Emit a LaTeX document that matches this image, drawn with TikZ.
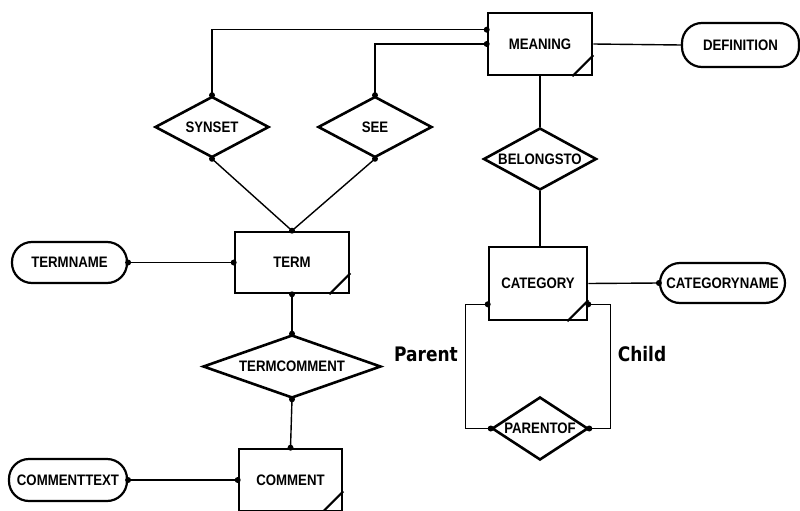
\documentclass[tikz,border=0pt]{standalone}
\usepackage{fontspec}
\setmainfont{Liberation Sans}
\newfontfamily\lblfont[FakeStretch=0.87]{Liberation Sans}
\newfontfamily\rolefont[FakeStretch=0.85]{DejaVu Sans}
\usetikzlibrary{shapes.geometric,calc}
\tikzset{
  lbl/.style={font=\lblfont\bfseries\fontsize{15.2}{17}\selectfont},
  ent/.style={lbl,draw,line width=2.6pt,rectangle,inner sep=0pt},
  rel/.style={draw,line width=2.6pt,diamond,inner sep=0pt},
  reltext/.style={lbl,inner sep=0pt},
  attr/.style={lbl,draw,line width=2.2pt,rectangle,rounded corners=20pt,inner sep=0pt},
  conn/.style={line width=1.4pt},
  rolelbl/.style={font=\rolefont\bfseries\fontsize{20}{22}\selectfont,inner sep=0pt},
}
\newcommand{\weakcorner}[1]{\draw[line width=2.2pt] ($(#1.south east)+(-21,0)$) -- ($(#1.south east)+(0,-21)$);}
\begin{document}
\begin{tikzpicture}[x=1pt,y=-1pt]
\useasboundingbox (0,0) rectangle (800,511);
% entities
\node[ent,minimum width=104pt,minimum height=62pt] (meaning) at (540,44) {MEANING};
\node[ent,minimum width=114pt,minimum height=61pt] (term) at (292,262.5) {TERM};
\node[ent,minimum width=103pt,minimum height=62pt] (comment) at (290.5,480) {COMMENT};
\node[ent,minimum width=98pt,minimum height=73pt] (category) at (538,283.5) {CATEGORY};
\weakcorner{meaning}
\weakcorner{term}
\weakcorner{comment}
\weakcorner{category}
% attributes
\node[attr,minimum width=117pt,minimum height=44pt] (definition) at (740.5,45) {DEFINITION};
\node[attr,minimum width=115pt,minimum height=41pt] (termname) at (69.5,262.5) {TERMNAME};
\node[attr,minimum width=118pt,minimum height=42pt] (commenttext) at (68,480) {COMMENTTEXT};
\node[attr,minimum width=125pt,minimum height=40pt] (catname) at (722.5,283) {CATEGORYNAME};
% relationships
\node[rel,minimum width=114pt,minimum height=61pt] (syn) at (212,127) {};
\node[reltext] (synT) at (syn) {SYNSET};
\node[rel,minimum width=114pt,minimum height=61pt] (see) at (375,127) {};
\node[reltext] (seeT) at (see) {SEE};
\node[rel,minimum width=178pt,minimum height=63pt] (tc) at (292,366.5) {};
\node[reltext] (tcT) at (tc) {TERMCOMMENT};
\node[rel,minimum width=113pt,minimum height=62pt] (belongs) at (540,159) {};
\node[reltext] (belongsT) at (belongs) {BELONGSTO};
\node[rel,minimum width=96pt,minimum height=63pt] (parentof) at (540,428.5) {};
\node[reltext] (parentofT) at (parentof) {PARENTOF};
% helper coordinates
\coordinate (mS) at ($(meaning.north west)+(0,18)$);
\coordinate (cP) at ($(category.south west)+(0,-17)$);
\coordinate (cC) at ($(category.south east)+(0,-17)$);
% connectors
\draw[conn] (meaning.east) -- (definition.west);
\draw[conn] (syn.north) |- (mS);
\draw[conn] (see.north) |- (meaning.west);
\draw[conn] (syn.south) -- (term.north);
\draw[conn] (see.south) -- (term.north);
\draw[conn] (termname.east) -- (term.west);
\draw[conn] (term.south) -- (tc.north);
\draw[conn] (tc.south) -- (comment.north);
\draw[conn] (commenttext.east) -- (comment.west);
\draw[line width=2pt] (meaning.south) -- (belongs.north);
\draw[line width=2pt] (belongs.south) -- (belongs.south |- category.north);
\draw[conn] (category.east) -- (catname.west);
\draw[conn] (cP) -- ++(-22,0) |- (parentof.west);
\draw[conn] (cC) -- ++(22,0) |- (parentof.east);
% dots
\foreach \p in {syn.north,syn.south,see.north,see.south,mS,meaning.west,term.north,term.west,term.south,termname.east,tc.north,tc.south,comment.north,comment.west,commenttext.east,catname.west,cP,cC,parentof.west,parentof.east}
  \fill (\p) circle (3pt);
% role labels
\node[rolelbl] (parentL) at (426,354) {Parent};
\node[rolelbl] (childL) at (642,354) {Child};
\end{tikzpicture}
\end{document}
